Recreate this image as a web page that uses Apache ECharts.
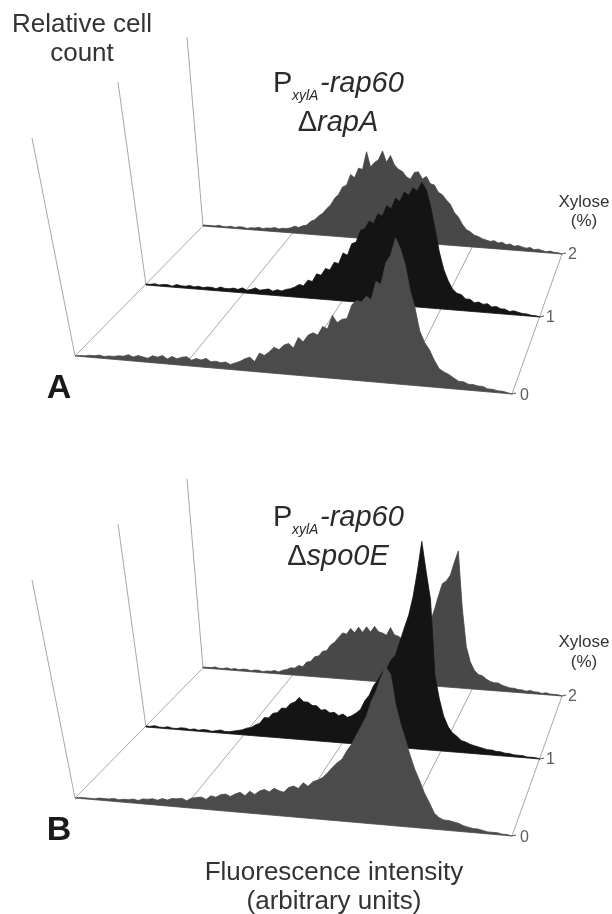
<!DOCTYPE html>
<html>
<head>
<meta charset="utf-8">
<style>html,body{margin:0;padding:0;background:#fff}#c{width:612px;height:914px}</style>
<script src="https://cdn.jsdelivr.net/npm/echarts@6/dist/echarts.min.js"></script>
</head>
<body>
<div id="c"></div>
<script>
// Relative cell count per fluorescence-intensity bin (bins 0..90), one array per strain and xylose level
const rapA_xylose2 = [1,1,1,1,2,1,1,2,1,2,2,1,2,2,3,2,3,3,4,3,4,4,5,7,6,8,9,13,15,19,22,27,31,38,42,50,52,63,60,70,69,87,72,77,80,89,78,85,76,72,70,65,63,70,71,64,67,60,59,52,50,45,41,33,29,22,17,15,12,11,9,8,7,8,6,7,5,6,4,5,4,3,4,2,3,2,1,2,1,1,0];
const rapA_xylose1 = [1,1,2,1,2,2,1,3,2,2,3,2,3,2,3,3,2,4,3,3,4,3,5,3,4,6,4,5,6,4,6,5,7,8,10,13,12,18,17,25,24,31,30,38,37,48,46,58,60,72,74,82,80,90,88,99,96,107,104,114,111,119,116,125,118,102,80,57,40,29,21,17,16,12,12,9,10,8,9,6,7,5,5,3,4,3,2,2,1,1,0];
const rapA_xylose0 = [0,1,1,2,2,3,2,3,3,4,4,6,4,6,5,4,7,6,8,5,8,6,8,9,6,8,7,9,6,7,6,7,5,7,9,12,14,10,19,17,21,26,24,29,31,27,38,34,41,44,42,51,49,63,56,60,61,75,80,79,85,82,101,98,120,128,146,136,120,95,78,55,44,37,27,19,16,14,11,8,8,6,6,5,5,3,3,2,2,1,0];
const spo0E_xylose2 = [1,1,1,2,1,1,2,1,2,1,2,2,1,2,2,1,2,2,3,2,4,5,7,7,10,9,14,15,20,21,26,27,33,36,41,46,45,51,47,53,48,54,49,55,50,49,47,55,48,47,44,45,45,47,50,54,60,64,76,90,103,106,112,125,137,80,42,27,19,15,14,11,9,8,8,6,5,4,4,3,3,2,3,2,2,1,2,1,1,1,0];
const spo0E_xylose1 = [1,1,2,1,1,2,1,1,2,2,1,2,1,2,2,1,2,3,2,2,3,4,5,7,8,11,13,19,19,24,25,30,30,35,37,42,38,38,35,35,31,32,29,30,27,29,26,28,31,35,44,50,60,66,74,78,87,92,106,120,133,152,178,208,178,150,75,52,35,25,19,16,12,11,9,8,7,6,5,5,4,4,3,3,2,2,2,1,1,1,0];
const spo0E_xylose0 = [0,1,1,1,1,2,2,2,3,2,3,3,4,3,5,5,6,5,7,6,8,8,9,7,10,11,12,10,14,13,16,17,15,18,20,17,22,19,23,25,23,27,25,24,29,31,29,35,32,37,39,42,47,53,58,62,71,78,88,97,107,122,133,147,158,151,122,103,88,72,58,47,35,26,16,12,10,10,9,8,6,5,4,4,3,2,2,2,1,1,0];

const xyloseLevels = ['0', '1', '2'];

// Panel geometry of the oblique drawing (floor rows, back to front)
const BIN_COUNT = 90;
const PANEL_SHIFT = [0, 442];
const ROW_FRAMES = [
  { x0: 203, y0: 226, x1: 562, y1: 254, topX: 187, topY: 37 },
  { x0: 146, y0: 285, x1: 540, y1: 317, topX: 118, topY: 82 },
  { x0: 75,  y0: 356, x1: 512, y1: 394, topX: 32,  topY: 138 }
];
const FLOOR_FRACTIONS = [0, 0.25, 0.5, 0.75, 1];
const ROW_COLORS = ['#484848', '#141414', '#4b4b4b'];
const LINE_COLOR = '#a8a8a8';

const panels = [
  [rapA_xylose2, rapA_xylose1, rapA_xylose0],
  [spo0E_xylose2, spo0E_xylose1, spo0E_xylose0]
];

function project(panel, row, bin, height) {
  const f = ROW_FRAMES[row], t = bin / BIN_COUNT, s = PANEL_SHIFT[panel];
  return [f.x0 + (f.x1 - f.x0) * t, f.y0 + s + (f.y1 - f.y0) * t - height];
}

const series = [];
const lineSeries = (data, extra) => Object.assign({
  type: 'line', data, symbol: 'none', silent: true, clip: false, animation: false, z: 1,
  lineStyle: { color: LINE_COLOR, width: 1 }
}, extra || {});

PANEL_SHIFT.forEach((s, p) => {
  // walls
  ROW_FRAMES.forEach(f => {
    series.push(lineSeries([[f.x0, f.y0 + s], [f.topX, f.topY + s]]));
  });
  // floor lines running from back row to front row
  FLOOR_FRACTIONS.forEach(fr => {
    const a = ROW_FRAMES[0], b = ROW_FRAMES[2];
    series.push(lineSeries([
      [a.x0 + (a.x1 - a.x0) * fr, a.y0 + s + (a.y1 - a.y0) * fr],
      [b.x0 + (b.x1 - b.x0) * fr, b.y0 + s + (b.y1 - b.y0) * fr]
    ]));
  });
  // histograms, back to front
  panels[p].forEach((values, row) => {
    const color = ROW_COLORS[row];
    series.push({
      type: 'custom', silent: true, clip: false, animation: false, coordinateSystem: 'cartesian2d', z: 2 + row,
      data: values.map((v, i) => [i, v]),
      renderItem(params, api) {
        if (params.dataIndexInside !== 0) return null;
        const n = params.dataInsideLength;
        const pts = [api.coord(project(p, row, 0, 0))];
        for (let k = 0; k < n; k++) {
          pts.push(api.coord(project(p, row, api.value(0, k), api.value(1, k))));
        }
        pts.push(api.coord(project(p, row, n - 1, 0)));
        return { type: 'polygon', shape: { points: pts }, style: { fill: color, stroke: color, lineWidth: 0.8, lineJoin: 'miter' } };
      }
    });
  });
  // xylose tick labels at the row ends
  xyloseLevels.slice().reverse().forEach((lab, row) => {
    const f = ROW_FRAMES[row];
    const end = [f.x1, f.y1 + s];
    series.push(lineSeries([end, [f.x1 + 4, f.y1 + s - 1]], {
      lineStyle: { color: '#555', width: 1 }
    }));
    series.push({
      type: 'scatter', silent: true, animation: false, clip: false, symbolSize: 0, z: 6,
      data: [end],
      label: {
        show: true, position: 'right', distance: row === 2 ? 8 : 6, formatter: lab,
        fontFamily: 'Liberation Sans', fontSize: 16, color: '#333', offset: [0, row === 2 ? 2 : 1]
      }
    });
  });
});

const sans = 'Liberation Sans';
const txt = (x, y, text, size, extra) => ({
  type: 'text', x, y, silent: true,
  style: Object.assign({
    text, fontFamily: sans, fontSize: size, fill: '#333', align: 'center', verticalAlign: 'middle'
  }, extra || {})
});
const strainTitle = (dy, name) => [
  txt(273, 84 + dy, 'P', 29, { align: 'left', fill: '#2b2b2b' }),
  txt(292, 96 + dy, 'xylA', 14, { align: 'left', fontStyle: 'italic', fill: '#2b2b2b' }),
  txt(320, 84 + dy, '-rap60', 29, { align: 'left', fontStyle: 'italic', fill: '#2b2b2b' }),
  txt(338, 123 + dy, '{u|\u0394}{i|' + name + '}', 29, {
    fill: '#2b2b2b',
    rich: {
      u: { fontFamily: sans, fontSize: 29, fill: '#2b2b2b' },
      i: { fontFamily: sans, fontSize: 29, fontStyle: 'italic', fill: '#2b2b2b' }
    }
  })
];

const chart = echarts.init(document.getElementById('c'), null, { renderer: 'canvas' });
chart.setOption({
  animation: false,
  backgroundColor: '#ffffff',
  grid: { left: 0, right: 0, top: 0, bottom: 0 },
  xAxis: { type: 'value', min: 0, max: 612, show: false },
  yAxis: { type: 'value', min: 0, max: 914, inverse: true, show: false },
  series,
  graphic: { elements: [
    txt(82, 25, 'Relative cell', 26),
    txt(82, 54, 'count', 26),
    ...strainTitle(0, 'rapA'),
    ...strainTitle(434, 'spo0E'),
    txt(584, 202, 'Xylose', 17),
    txt(584, 221, '(%)', 17),
    txt(584, 642, 'Xylose', 17),
    txt(584, 662, '(%)', 17),
    txt(59, 389, 'A', 34, { fontWeight: 'bold', fill: '#1a1a1a' }),
    txt(59, 831, 'B', 34, { fontWeight: 'bold', fill: '#1a1a1a' }),
    txt(334, 873, 'Fluorescence intensity', 26),
    txt(334, 902, '(arbitrary units)', 26)
  ] }
});
</script>
</body>
</html>
